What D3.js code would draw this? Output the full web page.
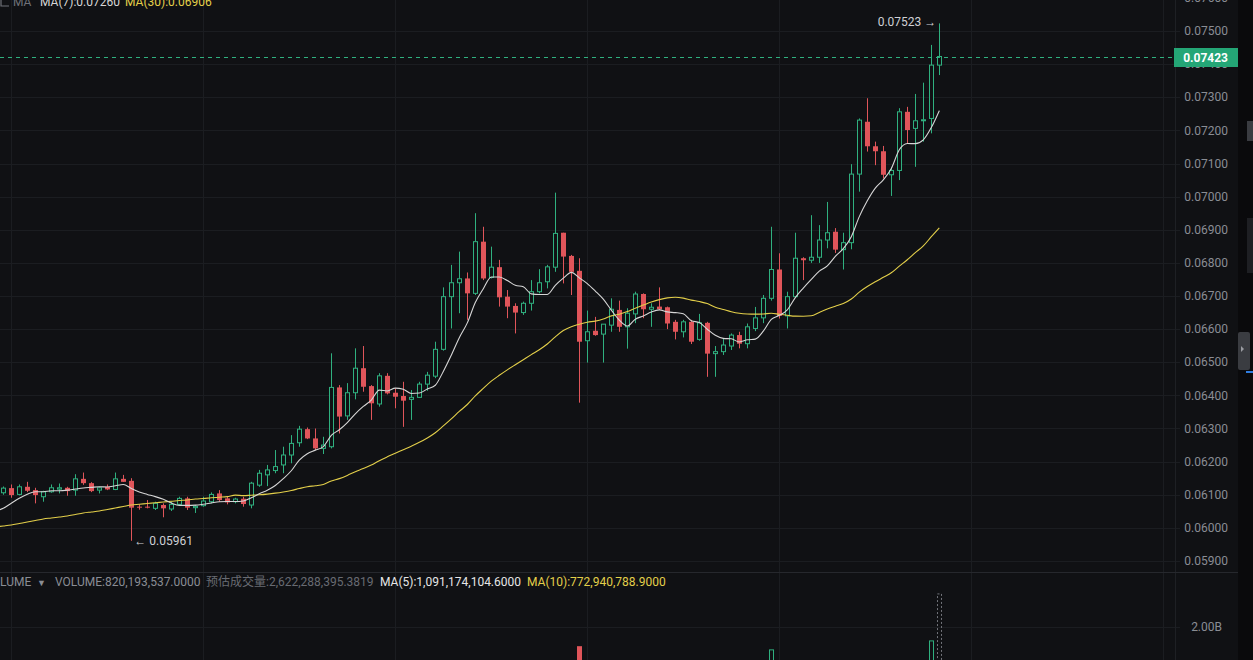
<!DOCTYPE html>
<html><head><meta charset="utf-8">
<script src="https://cdn.jsdelivr.net/npm/d3@7"></script>
<style>body{margin:0;background:#101114;overflow:hidden}svg{display:block}</style>
</head><body><svg id="c" width="1253" height="660"></svg>
<script>
const opens=[0.06106,0.06120,0.06101,0.06124,0.06114,0.06094,0.06109,0.06117,0.06121,0.06114,
0.06148,0.06135,0.06114,0.06124,0.06116,0.06148,0.06142,0.06064,0.06064,0.06059,
0.06069,0.06057,0.06071,0.06089,0.06061,0.06067,0.06079,0.06104,0.06089,0.06079,
0.06088,0.06069,0.06129,0.06160,0.06173,0.06190,0.06220,0.06257,0.06298,0.06270,
0.06240,0.06245,0.06424,0.06338,0.06408,0.06482,0.06428,0.06374,0.06459,0.06408,
0.06398,0.06388,0.06394,0.06434,0.06458,0.06539,0.06698,0.06740,0.06753,0.06708,
0.06864,0.06756,0.06787,0.06698,0.06670,0.06650,0.06678,0.06713,0.06743,0.06787,
0.06891,0.06821,0.06776,0.06565,0.06595,0.06585,0.06612,0.06658,0.06607,0.06646,
0.06706,0.06660,0.06668,0.06666,0.06622,0.06592,0.06622,0.06569,0.06619,0.06526,
0.06532,0.06549,0.06582,0.06556,0.06602,0.06634,0.06693,0.06780,0.06640,0.06698,
0.06814,0.06808,0.06817,0.06869,0.06894,0.06840,0.06861,0.07068,0.07226,0.07152,
0.07137,0.07066,0.07079,0.07256,0.07206,0.07229,0.07236,0.07397];
const highs=[0.06125,0.06131,0.06131,0.06139,0.06121,0.06112,0.06131,0.06134,0.06124,0.06162,
0.06167,0.06138,0.06124,0.06131,0.06167,0.06160,0.06150,0.06071,0.06084,0.06079,
0.06074,0.06079,0.06094,0.06094,0.06069,0.06094,0.06107,0.06114,0.06094,0.06091,
0.06094,0.06139,0.06175,0.06190,0.06235,0.06245,0.06280,0.06308,0.06303,0.06300,
0.06275,0.06527,0.06431,0.06437,0.06542,0.06549,0.06431,0.06467,0.06467,0.06421,
0.06441,0.06416,0.06441,0.06471,0.06562,0.06726,0.06794,0.06834,0.06771,0.06950,
0.06909,0.06849,0.06809,0.06718,0.06678,0.06683,0.06748,0.06781,0.06794,0.07012,
0.06891,0.06824,0.06814,0.06656,0.06637,0.06615,0.06693,0.06686,0.06663,0.06713,
0.06708,0.06678,0.06726,0.06668,0.06628,0.06628,0.06628,0.06646,0.06622,0.06549,
0.06572,0.06587,0.06592,0.06617,0.06667,0.06703,0.06909,0.06829,0.06713,0.06891,
0.06817,0.06944,0.06914,0.06984,0.06905,0.06891,0.07098,0.07236,0.07297,0.07166,
0.07153,0.07088,0.07267,0.07271,0.07310,0.07344,0.07458,0.07523];
const lows=[0.06100,0.06091,0.06098,0.06108,0.06074,0.06079,0.06106,0.06104,0.06097,0.06097,
0.06130,0.06108,0.06104,0.06114,0.06114,0.06139,0.05961,0.06055,0.06059,0.06054,
0.06032,0.06051,0.06069,0.06054,0.06045,0.06064,0.06074,0.06079,0.06071,0.06074,
0.06064,0.06059,0.06124,0.06126,0.06165,0.06165,0.06195,0.06245,0.06268,0.06235,
0.06223,0.06240,0.06285,0.06326,0.06388,0.06411,0.06326,0.06366,0.06403,0.06361,
0.06305,0.06326,0.06392,0.06414,0.06452,0.06535,0.06602,0.06648,0.06628,0.06703,
0.06748,0.06753,0.06668,0.06633,0.06587,0.06643,0.06656,0.06708,0.06723,0.06773,
0.06738,0.06703,0.06378,0.06499,0.06580,0.06499,0.06592,0.06592,0.06541,0.06618,
0.06633,0.06607,0.06658,0.06600,0.06569,0.06575,0.06555,0.06565,0.06456,0.06456,
0.06522,0.06537,0.06542,0.06542,0.06594,0.06618,0.06686,0.06632,0.06602,0.06695,
0.06748,0.06800,0.06800,0.06844,0.06830,0.06780,0.06841,0.07015,0.07136,0.07095,
0.07055,0.07002,0.07050,0.07161,0.07090,0.07166,0.07191,0.07367];
const closes=[0.06120,0.06099,0.06124,0.06112,0.06099,0.06109,0.06121,0.06121,0.06111,0.06148,
0.06135,0.06111,0.06121,0.06116,0.06148,0.06139,0.06061,0.06061,0.06061,0.06074,
0.06059,0.06071,0.06089,0.06061,0.06065,0.06081,0.06101,0.06084,0.06077,0.06087,
0.06072,0.06135,0.06165,0.06175,0.06185,0.06220,0.06255,0.06298,0.06270,0.06240,
0.06250,0.06424,0.06336,0.06408,0.06482,0.06426,0.06376,0.06459,0.06406,0.06396,
0.06384,0.06394,0.06434,0.06461,0.06539,0.06698,0.06740,0.06752,0.06708,0.06864,
0.06753,0.06787,0.06696,0.06668,0.06650,0.06678,0.06713,0.06740,0.06788,0.06889,
0.06819,0.06773,0.06562,0.06592,0.06582,0.06615,0.06660,0.06607,0.06648,0.06706,
0.06660,0.06666,0.06660,0.06617,0.06592,0.06622,0.06562,0.06619,0.06526,0.06532,
0.06552,0.06582,0.06556,0.06607,0.06634,0.06693,0.06780,0.06640,0.06698,0.06814,
0.06808,0.06817,0.06869,0.06891,0.06840,0.06861,0.07068,0.07231,0.07152,0.07137,
0.07066,0.07079,0.07256,0.07201,0.07229,0.07232,0.07397,0.07423];
// volume in millions
const volumes=[420,380,350,400,360,330,310,300,340,450,420,360,300,280,390,350,
980,
520,430,380,400,350,330,390,340,310,360,320,300,280,330,
620,540,500,560,600,640,580,450,480,420,
1250,
900,700,850,820,650,600,480,420,560,400,380,420,640,
1300,1100,950,700,1280,1000,620,700,520,560,380,460,420,480,1200,900,700,1630,900,500,
560,520,480,450,520,460,360,400,420,380,330,460,400,800,560,420,400,380,450,480,
620,1560,1200,700,980,520,760,600,720,540,500,1150,1290,500,420,400,350,604,1050,950,
906,1730,820];
const estVolume=2622.288; // estimated volume of the live candle (millions)
// moving-average values, starting one candle left of the first visible candle
const ma7Head=[0.060510,0.060591,0.060742,0.060893,0.061014,0.061092,0.061092];
const ma30Head=[0.060030,0.060057,0.060087,0.060132,0.060177,0.060223,0.060268,0.060298,0.060328,0.060358,0.060404,
0.060449,0.060479,0.060509,0.060555,0.060600,0.060645,0.060691,0.060712,0.060736,0.060757,
0.060781,0.060802,0.060826,0.060842,0.060872,0.060887,0.060908,0.060926,0.060944];
const priceTicks=[0.059,0.060,0.061,0.062,0.063,0.064,0.065,0.066,0.067,0.068,0.069,0.070,0.071,0.072,0.073,0.074,0.075,0.076];
const volTicks=[2000];
const lastPrice=0.07423;

const W=1253,H=660;
const svg=d3.select('#c');
const BG='#101114', GRID='#1b1d21', UP='#2fb07f', DOWN='#e0555a', LBL='#8a8d94';
const n=closes.length;
const x=d3.scaleLinear().domain([0,145]).range([3.3,1163.3]);
const y=d3.scaleLinear().domain([0.059,0.075]).range([561,31]);
const yv=d3.scaleLinear().domain([0,2000]).range([732,626.7]);

svg.append('rect').attr('width',W).attr('height',H).attr('fill',BG);

// grids
const g=svg.append('g');
g.selectAll('.hg').data(priceTicks).join('line')
 .attr('x1',0).attr('x2',1180).attr('y1',d=>Math.round(y(d))+0.5).attr('y2',d=>Math.round(y(d))+0.5)
 .attr('stroke',GRID).attr('stroke-width',1);
g.selectAll('.vg').data(d3.range(1,146,24)).join('line')
 .attr('x1',d=>Math.round(x(d))+0.5).attr('x2',d=>Math.round(x(d))+0.5).attr('y1',0).attr('y2',H)
 .attr('stroke',GRID).attr('stroke-width',1);
g.selectAll('.vgv').data(volTicks).join('line')
 .attr('x1',0).attr('x2',1180).attr('y1',d=>Math.round(yv(d))+0.5).attr('y2',d=>Math.round(yv(d))+0.5)
 .attr('stroke',GRID);
svg.append('line').attr('x1',1175.5).attr('x2',1175.5).attr('y1',0).attr('y2',H).attr('stroke','#1e2024');
svg.append('line').attr('x1',0).attr('x2',1238).attr('y1',572.5).attr('y2',572.5).attr('stroke','#26282d');

// price axis labels
const ax=svg.append('g').attr('font-family','Roboto, sans-serif').attr('font-size',12).attr('fill',LBL);
ax.selectAll('text').data(priceTicks).join('text')
 .attr('x',1228).attr('y',d=>y(d)+4.2).attr('text-anchor','end').text(d=>d.toFixed(5));
ax.selectAll('.vt').data(volTicks).join('text')
 .attr('x',1222).attr('y',d=>yv(d)+4.2).attr('text-anchor','end').text(d=>(d/1000).toFixed(2)+'B');

// candles
const data=d3.range(n).map(i=>({i,o:opens[i],h:highs[i],l:lows[i],c:closes[i],v:volumes[i]}));
svg.append('clipPath').attr('id','plotclip').append('rect').attr('x',0).attr('y',0).attr('width',1175).attr('height',572);
const cg=svg.append('g').attr('clip-path','url(#plotclip)');
data.forEach(d=>{
  const cx=Math.round(x(d.i))+0.5, up=d.c>=d.o, col=up?UP:DOWN;
  cg.append('line').attr('x1',cx).attr('x2',cx).attr('y1',y(d.h)).attr('y2',y(d.l)).attr('stroke',col).attr('stroke-width',1);
  const top=y(Math.max(d.o,d.c)), bot=y(Math.min(d.o,d.c));
  const hgt=Math.max(1,bot-top);
  if(up){
    cg.append('rect').attr('x',cx-2).attr('y',top).attr('width',4).attr('height',Math.max(0.5,hgt))
      .attr('fill',BG).attr('stroke',col).attr('stroke-width',1);
  } else {
    cg.append('rect').attr('x',cx-2.5).attr('y',top).attr('width',5).attr('height',hgt).attr('fill',col);
  }
});

// moving averages (index -1 .. n-1)
function ma(period, head){
  return d3.range(-1,n).map(i=> i<period-1 ? head[i+1] : d3.mean(closes.slice(i-period+1,i+1)));
}
const ma7=ma(7,ma7Head), ma30=ma(30,ma30Head);
const maLine=d3.line().x((d,k)=>x(k-1)).y(d=>y(d)).curve(d3.curveMonotoneX);
cg.append('path').attr('d',maLine(ma30)).attr('fill','none').attr('stroke','#e3cf4a').attr('stroke-width',1.1);
cg.append('path').attr('d',maLine(ma7)).attr('fill','none').attr('stroke','#d6d6d6').attr('stroke-width',1.1);

// current price line + tag
const yl=Math.round(y(lastPrice))+0.5;
svg.append('line').attr('x1',0).attr('x2',1174).attr('y1',yl).attr('y2',yl)
  .attr('stroke','#2fb07f').attr('stroke-width',1).attr('stroke-dasharray','4,4');
svg.append('rect').attr('x',1174).attr('y',yl-9.5).attr('width',64).attr('height',19).attr('fill','#24a676');
svg.append('text').attr('x',1228).attr('y',yl+4.3).attr('text-anchor','end')
  .attr('font-family','Roboto, sans-serif').attr('font-size',12).attr('font-weight','bold').attr('fill','#ffffff')
  .text(lastPrice.toFixed(5));

// high / low markers
const iHi=d3.maxIndex(highs), iLo=d3.minIndex(lows);
svg.append('text').attr('x',x(iHi)-3).attr('y',y(highs[iHi])+3).attr('text-anchor','end')
  .attr('font-family','Roboto, sans-serif').attr('font-size',12).attr('fill','#cfd0d4')
  .text(highs[iHi].toFixed(5)+' →');
svg.append('text').attr('x',x(iLo)+3).attr('y',y(lows[iLo])+4.5).attr('text-anchor','start')
  .attr('font-family','Roboto, sans-serif').attr('font-size',12).attr('fill','#cfd0d4')
  .text('← '+lows[iLo].toFixed(5));

// volume bars
svg.append('clipPath').attr('id','volclip').append('rect').attr('x',0).attr('y',573).attr('width',1175).attr('height',87);
const vg=svg.append('g').attr('clip-path','url(#volclip)');
data.forEach(d=>{
  const cx=Math.round(x(d.i))+0.5, up=d.c>=d.o, col=up?UP:DOWN;
  const t=yv(d.v);
  if(up) vg.append('rect').attr('x',cx-2).attr('y',t).attr('width',4).attr('height',732-t).attr('fill',BG).attr('stroke',col);
  else vg.append('rect').attr('x',cx-2.5).attr('y',t).attr('width',5).attr('height',732-t).attr('fill',col);
});
{
  const cx=Math.round(x(n-1))+0.5, t=yv(estVolume);
  vg.append('rect').attr('x',cx-2).attr('y',t).attr('width',4).attr('height',732-t)
    .attr('fill','none').attr('stroke','#8a8d94').attr('stroke-width',0.8).attr('stroke-dasharray','2,2');
}

// headers
const h1=svg.append('text').attr('y',6).attr('font-family','Roboto, sans-serif').attr('font-size',12);
svg.append('path').attr('d','M1,-1 L1,6 L9,6').attr('fill','none').attr('stroke','#6f7279').attr('stroke-width',1.2);
h1.append('tspan').attr('x',13).attr('fill','#6f7279').text('MA');
h1.append('tspan').attr('x',40).attr('fill','#d6d6d6').text('MA(7):'+ma7[n].toFixed(5));
h1.append('tspan').attr('x',125).attr('fill','#e3cf4a').text('MA(30):'+ma30[n].toFixed(5));

const h2=svg.append('text').attr('y',585.5).attr('font-family','Roboto, sans-serif').attr('font-size',12);
h2.append('tspan').attr('x',0).attr('fill','#8a8d94').text('LUME');
h2.append('tspan').attr('x',37).attr('fill','#8a8d94').attr('font-size',9).text('▼');
h2.append('tspan').attr('x',55).attr('fill','#8a8d94').text('VOLUME:820,193,537.0000');
h2.append('tspan').attr('x',206).attr('fill','#686b72').attr('font-family','"Noto Sans CJK SC", sans-serif').text('预估成交量');
h2.append('tspan').attr('fill','#686b72').text(':2,622,288,395.3819');
h2.append('tspan').attr('x',380).attr('fill','#e6e6e6').text('MA(5):1,091,174,104.6000');
h2.append('tspan').attr('x',527).attr('fill','#e3cf4a').text('MA(10):772,940,788.9000');

// right side panel
svg.append('rect').attr('x',1238).attr('y',0).attr('width',15).attr('height',H).attr('fill','#0a0a0c');
svg.append('rect').attr('x',1247).attr('y',121).attr('width',6).attr('height',20).attr('fill','#3a3c41');
svg.append('rect').attr('x',1247).attr('y',218).attr('width',6).attr('height',55).attr('fill','#1e1f23');
svg.append('rect').attr('x',1238).attr('y',332).attr('width',12).attr('height',38).attr('rx',2).attr('fill','#3a3c41');
svg.append('path').attr('d','M1241,346 L1244,349 L1241,352 Z').attr('fill','#9a9ca2');
svg.append('rect').attr('x',1246).attr('y',371).attr('width',7).attr('height',2).attr('fill','#2f7de1');
</script></body></html>
